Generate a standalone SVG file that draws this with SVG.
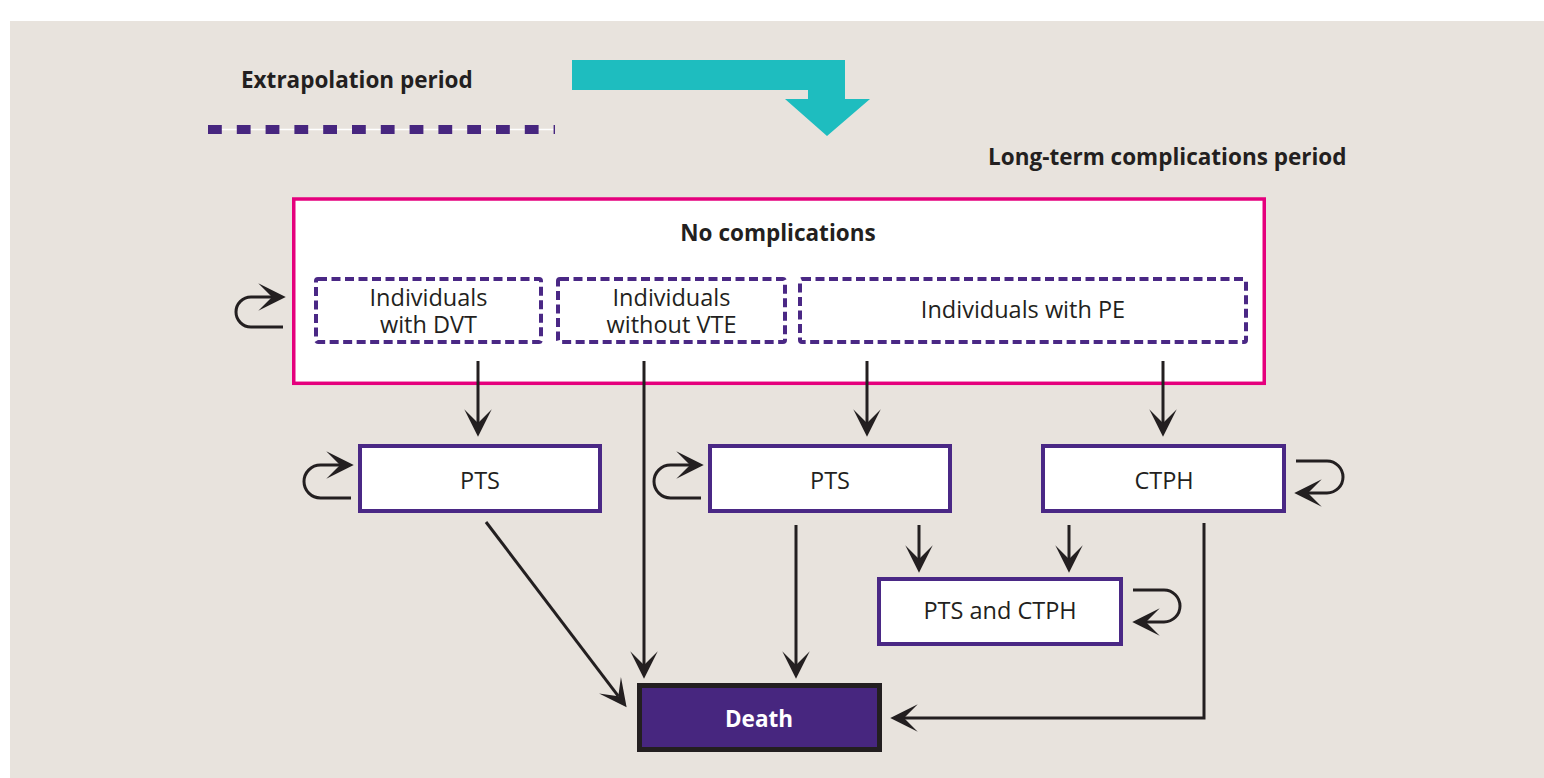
<svg xmlns="http://www.w3.org/2000/svg" width="1544" height="778" viewBox="0 0 1544 778">
<defs>
<style>
.t{font-family:"Open Sans","Liberation Sans",Arial,sans-serif;font-size:23.5px;fill:#231f20}
.b{font-family:"Open Sans","Liberation Sans",Arial,sans-serif;font-size:22.5px;font-weight:bold;fill:#231f20}
.box{fill:#ffffff;stroke:#4a2885;stroke-width:4}
.dbox{fill:none;stroke:#4a2885;stroke-width:4;stroke-dasharray:9 4.5}
.c{fill:none;stroke:#231f20;stroke-width:3;marker-end:url(#ah)}
</style>
<marker id="ah" markerUnits="userSpaceOnUse" markerWidth="30" markerHeight="30" viewBox="-12 -12 24 24" refX="0" refY="0" orient="auto" overflow="visible">
<path d="M11,0 L-11,-11 L0,0 L-11,11 Z" fill="#231f20"/>
</marker>
</defs>
<rect x="10" y="21" width="1534" height="757" fill="#e8e3dd"/>
<g id="legend">
<text class="b" x="241" y="88">Extrapolation period</text>
<line x1="208" y1="129.5" x2="555" y2="129.5" stroke="#ffffff" stroke-width="1.5"/>
<line x1="208" y1="129.5" x2="555" y2="129.5" stroke="#47267f" stroke-width="9" stroke-dasharray="13.8 15"/>
<polygon points="572,60 845,60 845,99 870,99 827,136 785,99 808,99 808,90 572,90" fill="#1ebdbf"/>
<text class="b" x="988" y="165">Long-term complications period</text>
</g>
<g id="no-complications">
<rect x="293.75" y="199" width="970.5" height="184.3" fill="#ffffff" stroke="#e5007d" stroke-width="3.5"/>
<text class="b" x="778" y="241" text-anchor="middle">No complications</text>
</g>
<g id="dvt">
<rect class="dbox" x="316" y="279" width="225" height="63" rx="2"/>
<text class="t" text-anchor="middle"><tspan x="428.5" y="306">Individuals</tspan><tspan x="428.5" y="333">with DVT</tspan></text>
</g>
<g id="novte">
<rect class="dbox" x="558" y="279" width="227" height="63" rx="2"/>
<text class="t" text-anchor="middle"><tspan x="671.5" y="306">Individuals</tspan><tspan x="671.5" y="333">without VTE</tspan></text>
</g>
<g id="pe">
<rect class="dbox" x="800" y="279" width="446" height="63" rx="2"/>
<text class="t" x="1023" y="318" text-anchor="middle">Individuals with PE</text>
</g>
<g id="pts1">
<rect class="box" x="360" y="446" width="240" height="65"/>
<text class="t" x="480" y="489" text-anchor="middle">PTS</text>
</g>
<g id="pts2">
<rect class="box" x="710" y="446" width="240" height="65"/>
<text class="t" x="830" y="489" text-anchor="middle">PTS</text>
</g>
<g id="ctph">
<rect class="box" x="1043" y="446" width="241" height="65"/>
<text class="t" x="1164" y="489" text-anchor="middle">CTPH</text>
</g>
<g id="ptsctph">
<rect class="box" x="879" y="579" width="242" height="65"/>
<text class="t" x="1000" y="619" text-anchor="middle">PTS and CTPH</text>
</g>
<g id="death">
<rect x="639.5" y="685.5" width="240" height="64" fill="#47267f" stroke="#231f20" stroke-width="5"/>
<text class="b" x="759" y="727" text-anchor="middle" style="fill:#ffffff">Death</text>
</g>
<g id="connectors">
<path class="c" d="M478,361 V423"/>
<path class="c" d="M644,361 V665"/>
<path class="c" d="M867,361 V423"/>
<path class="c" d="M1163,361 V423"/>
<path class="c" d="M486,522 L618.3,696.2"/>
<path class="c" d="M796,525 V665"/>
<path class="c" d="M919,525 V559"/>
<path class="c" d="M1069,525 V559"/>
<path class="c" d="M1204,523 V718 H904"/>
<path class="c" d="M283,327 H251 A15,15 0 0 1 251,297 H272"/>
<path class="c" d="M351,498 H320.5 A16.5,16.5 0 0 1 320.5,465 H340"/>
<path class="c" d="M701,498 H670.5 A16.5,16.5 0 0 1 670.5,465 H690"/>
<path class="c" d="M1296,461 H1327 A16,16 0 0 1 1327,493 H1308"/>
<path class="c" d="M1133,590 H1164 A16,16 0 0 1 1164,622 H1146"/>
</g>
</svg>
